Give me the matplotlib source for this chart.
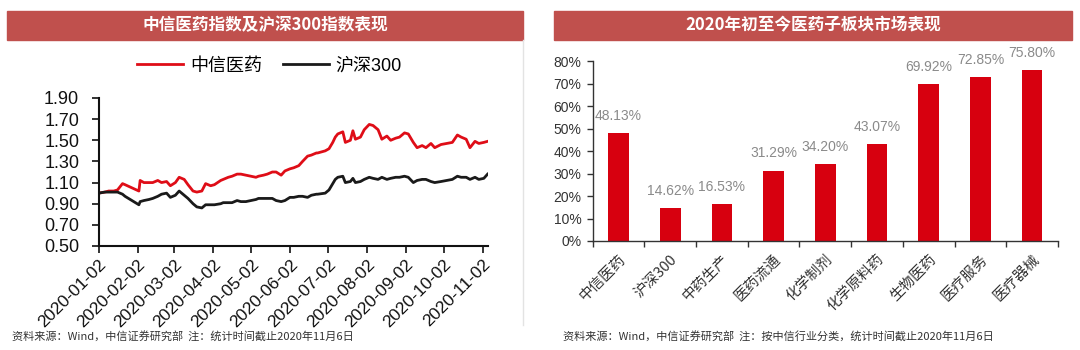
import matplotlib
matplotlib.use('Agg')
import matplotlib.pyplot as plt
import matplotlib.dates as mdates
from matplotlib.patches import Rectangle
from matplotlib.lines import Line2D
import pandas as pd

plt.rcParams['font.family'] = ['Liberation Sans', 'Noto Sans CJK SC']

# ---- left: index performance ----
dates = ['2020-01-02', '2020-01-07', '2020-01-10', '2020-01-14', '2020-01-17', '2020-01-21',
         '2020-01-23', '2020-02-03', '2020-02-04', '2020-02-07', '2020-02-11', '2020-02-14',
         '2020-02-18', '2020-02-21', '2020-02-25', '2020-02-28', '2020-03-03', '2020-03-06',
         '2020-03-10', '2020-03-13', '2020-03-17', '2020-03-20', '2020-03-24', '2020-03-27',
         '2020-03-31', '2020-04-03', '2020-04-08', '2020-04-10', '2020-04-14', '2020-04-17',
         '2020-04-21', '2020-04-24', '2020-04-28', '2020-05-06', '2020-05-08', '2020-05-12',
         '2020-05-15', '2020-05-19', '2020-05-22', '2020-05-26', '2020-05-29', '2020-06-02',
         '2020-06-05', '2020-06-09', '2020-06-12', '2020-06-16', '2020-06-19', '2020-06-23',
         '2020-06-24', '2020-06-30', '2020-07-03', '2020-07-06', '2020-07-08', '2020-07-10',
         '2020-07-14', '2020-07-16', '2020-07-20', '2020-07-22', '2020-07-24', '2020-07-28',
         '2020-07-31', '2020-08-04', '2020-08-07', '2020-08-11', '2020-08-14', '2020-08-18',
         '2020-08-21', '2020-08-25', '2020-08-28', '2020-09-01', '2020-09-04', '2020-09-08',
         '2020-09-11', '2020-09-15', '2020-09-18', '2020-09-22', '2020-09-25', '2020-09-30',
         '2020-10-09', '2020-10-13', '2020-10-16', '2020-10-20', '2020-10-23', '2020-10-27',
         '2020-10-30', '2020-11-03', '2020-11-06']
citic_pharma = [1.00, 1.01, 1.02, 1.02, 1.03, 1.09, 1.08, 1.02, 1.12, 1.10, 1.10, 1.10,
                1.12, 1.10, 1.11, 1.07, 1.10, 1.15, 1.13, 1.08, 1.02, 1.01, 1.02, 1.09,
                1.07, 1.08, 1.12, 1.13, 1.15, 1.16, 1.18, 1.18, 1.17, 1.15, 1.16, 1.17,
                1.18, 1.20, 1.20, 1.17, 1.21, 1.23, 1.24, 1.26, 1.30, 1.35, 1.36, 1.38,
                1.38, 1.40, 1.42, 1.48, 1.53, 1.56, 1.58, 1.48, 1.50, 1.59, 1.51, 1.53,
                1.60, 1.65, 1.64, 1.60, 1.51, 1.54, 1.50, 1.52, 1.53, 1.57, 1.56, 1.48,
                1.43, 1.45, 1.43, 1.47, 1.43, 1.46, 1.48, 1.55, 1.53, 1.51, 1.43, 1.49,
                1.47, 1.48, 1.49]
hs300 = [1.00, 1.01, 1.01, 1.01, 1.01, 0.99, 0.97, 0.89, 0.92, 0.93, 0.94, 0.95,
         0.97, 0.99, 1.00, 0.96, 0.98, 1.02, 0.98, 0.95, 0.90, 0.87, 0.86, 0.89,
         0.89, 0.89, 0.90, 0.91, 0.91, 0.91, 0.93, 0.92, 0.92, 0.94, 0.95, 0.95,
         0.95, 0.95, 0.93, 0.92, 0.93, 0.96, 0.96, 0.97, 0.97, 0.96, 0.98, 0.99,
         0.99, 1.00, 1.03, 1.09, 1.13, 1.15, 1.16, 1.10, 1.11, 1.14, 1.10, 1.11,
         1.13, 1.15, 1.14, 1.13, 1.15, 1.13, 1.14, 1.15, 1.15, 1.16, 1.15, 1.10,
         1.12, 1.13, 1.13, 1.11, 1.10, 1.11, 1.13, 1.16, 1.15, 1.15, 1.13, 1.15,
         1.13, 1.14, 1.18]
month_ticks = ['2020-01-02', '2020-02-02', '2020-03-02', '2020-04-02', '2020-05-02', '2020-06-02',
               '2020-07-02', '2020-08-02', '2020-09-02', '2020-10-02', '2020-11-02']
y_ticks = [0.50, 0.70, 0.90, 1.10, 1.30, 1.50, 1.70, 1.90]

# ---- right: sub-sector performance ----
sectors = ['中信医药', '沪深300', '中药生产', '医药流通', '化学制剂', '化学原料药', '生物医药', '医疗服务', '医疗器械']
returns = [48.13, 14.62, 16.53, 31.29, 34.20, 43.07, 69.92, 72.85, 75.80]

RED = '#df0d17'
BAR = '#d7000f'
HEAD = '#c0504d'

fig = plt.figure(figsize=(10.8, 3.5), dpi=100)
W, H = 1080.0, 350.0

# header bands
for x0, x1, title in [(7, 523, '中信医药指数及沪深300指数表现'),
                      (554, 1072, '2020年初至今医药子板块市场表现')]:
    fig.patches.append(Rectangle((x0 / W, 1 - 40 / H), (x1 - x0) / W, 29 / H,
                                 transform=fig.transFigure, color=HEAD, zorder=0))
    fig.text((x0 + x1) / 2 / W, 1 - 25.5 / H, title, color='white', fontsize=12,
             fontweight='bold', ha='center', va='center', family=['Noto Sans CJK SC'])

fig.lines.append(Line2D([523 / W, 523 / W], [1 - 40 / H, 1 - 325 / H], transform=fig.transFigure,
                        color='#e3e3e3', lw=1))

# left line chart
ax1 = fig.add_axes([98.6 / W, 1 - 246 / H, 389 / W, 148 / H])
d = pd.to_datetime(dates)
ax1.plot(d, citic_pharma, color=RED, lw=2, label='中信医药')
ax1.plot(d, hs300, color='#1a1a1a', lw=2, label='沪深300')
ax1.set_ylim(0.5, 1.9)
ax1.set_yticks(y_ticks)
ax1.set_yticklabels(['%.2f' % v for v in y_ticks])
ax1.set_xlim(pd.Timestamp('2020-01-02'), pd.Timestamp('2020-11-06'))
ax1.set_xticks(pd.to_datetime(month_ticks))
ax1.xaxis.set_major_formatter(mdates.DateFormatter('%Y-%m-%d'))
for lab in ax1.get_xticklabels():
    lab.set_rotation(45)
    lab.set_ha('right')
    lab.set_rotation_mode('anchor')
ax1.tick_params(axis='both', colors='#111111', length=5, width=1.2, direction='out')
ax1.tick_params(axis='x', labelsize=12.5, pad=3)
ax1.tick_params(axis='y', labelsize=13, pad=9)
for s in ['top', 'right']:
    ax1.spines[s].set_visible(False)
for s in ['left', 'bottom']:
    ax1.spines[s].set_linewidth(1.5)
    ax1.spines[s].set_color('#111111')
ax1.legend(loc='center', bbox_to_anchor=(0.44, 1.216), ncol=2, frameon=False,
           handlelength=2.5, handletextpad=0.4, columnspacing=1.2,
           prop={'family': ['Liberation Sans', 'Noto Sans CJK SC'], 'size': 13})

# right bar chart
ax2 = fig.add_axes([592.6 / W, 1 - 241 / H, 465.4 / W, 180 / H])
xs = range(len(sectors))
ax2.bar(xs, [r / 100 for r in returns], width=0.4, color=BAR, zorder=2)
for x, r in zip(xs, returns):
    ax2.text(x, r / 100 + 0.045, '%.2f%%' % r, ha='center', va='bottom', fontsize=10,
             color='#8a8a8a')
ax2.set_ylim(0, 0.8)
ax2.set_xlim(-0.5, len(sectors) - 0.5)
ax2.set_yticks([i / 10 for i in range(9)])
ax2.set_yticklabels(['%d%%' % (i * 10) for i in range(9)])
ax2.set_xticks(list(xs))
ax2.set_xticklabels(sectors, rotation=45, ha='right', rotation_mode='anchor',
                    family=['Noto Sans CJK SC'])
ax2.set_xticks([i - 0.5 for i in range(len(sectors) + 1)], minor=True)
ax2.tick_params(axis='x', which='major', length=0, labelsize=10.5, colors='#333333', pad=8)
ax2.tick_params(axis='x', which='minor', length=4, width=1, color='#333333', direction='out')
ax2.tick_params(axis='y', labelsize=10, colors='#333333', length=4, width=1, direction='out', pad=4)
for s in ['top', 'right']:
    ax2.spines[s].set_visible(False)
for s in ['left', 'bottom']:
    ax2.spines[s].set_linewidth(1)
    ax2.spines[s].set_color('#333333')

# footnotes
fig.text(12 / W, 1 - 337 / H, '资料来源：Wind，中信证券研究部  注：统计时间截止2020年11月6日',
         fontsize=8, color='#333333', va='center', family=['Noto Sans CJK SC'])
fig.text(563 / W, 1 - 337 / H, '资料来源：Wind，中信证券研究部  注：按中信行业分类，统计时间截止2020年11月6日',
         fontsize=8, color='#333333', va='center', family=['Noto Sans CJK SC'])

fig.savefig('out.png', dpi=100)
